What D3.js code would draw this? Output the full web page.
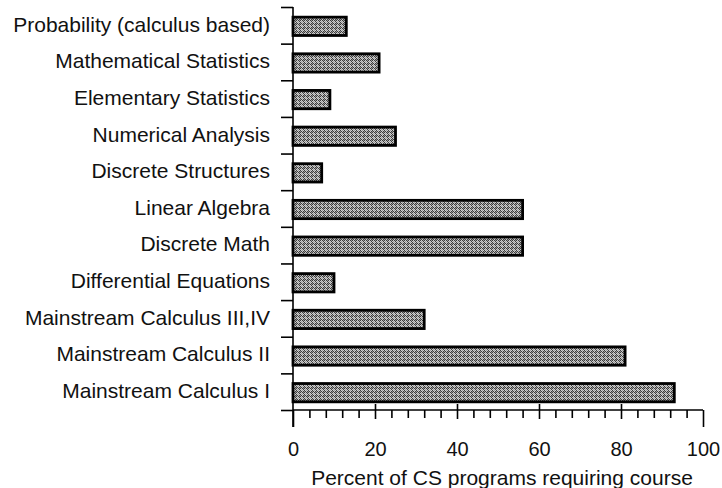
<!DOCTYPE html>
<html>
<head>
<meta charset="utf-8">
<script src="https://cdn.jsdelivr.net/npm/d3@7"></script>
<style>
  body { margin: 0; background: #fff; }
  text { font-family: "Liberation Sans", Arial, Helvetica, sans-serif; fill: #111; }
</style>
</head>
<body>
<svg width="722" height="488"></svg>
<script>
// courses, top to bottom
var courses = [
  "Probability (calculus based)",
  "Mathematical Statistics",
  "Elementary Statistics",
  "Numerical Analysis",
  "Discrete Structures",
  "Linear Algebra",
  "Discrete Math",
  "Differential Equations",
  "Mainstream Calculus III,IV",
  "Mainstream Calculus II",
  "Mainstream Calculus I"
];
var percents = [13, 21, 9, 25, 7, 56, 56, 10, 32, 81, 93];
var majorTicks = [0, 20, 40, 60, 80, 100];
var minorTicks = d3.range(0, 101, 4).filter(function(d) { return d % 20 !== 0; });
var xTitle = "Percent of CS programs requiring course";

var svg = d3.select("svg");

// grainy gray fill like the scanned bars (D dark, L light, M mid)
var grain = ["DLDM", "LMLD", "DLML", "MDLD"];
var shade = { D: "#3c3c3c", L: "#cfcfcf", M: "#9a9a9a" };
var pat = svg.append("defs").append("pattern")
    .attr("id", "grain")
    .attr("width", 4).attr("height", 4)
    .attr("patternUnits", "userSpaceOnUse");
grain.forEach(function(row, r) {
  row.split("").forEach(function(c, k) {
    pat.append("rect")
        .attr("x", k).attr("y", r)
        .attr("width", 1).attr("height", 1)
        .attr("fill", shade[c]);
  });
});

var x = d3.scaleLinear().domain([0, 100]).range([293, 703]);
var y = d3.scaleBand().domain(courses).range([7, 410])
    .paddingInner(0.5).paddingOuter(0.25);
var yEdge = d3.scaleLinear().domain([0, courses.length]).range([7, 410]);

// bars
svg.append("g")
    .selectAll("rect")
    .data(percents)
    .enter()
    .append("rect")
    .attr("x", x(0))
    .attr("y", function(d, i) { return y(courses[i]) + 1; })
    .attr("width", function(d) { return x(d) - x(0); })
    .attr("height", y.bandwidth())
    .attr("fill", "url(#grain)")
    .attr("stroke", "#000")
    .attr("stroke-width", 2.8);

// y axis: ticks at category boundaries
var yAx = svg.append("g")
    .attr("transform", "translate(" + x(0) + ",0)")
    .call(d3.axisLeft(yEdge).tickValues(d3.range(0, courses.length + 1)).tickSize(12).tickFormat(""));
yAx.select(".domain").attr("d", "M0," + yEdge(0) + "V" + 427);
yAx.selectAll("line, path").attr("stroke", "#000").attr("stroke-width", 1.6);

// category labels
var yLab = svg.append("g")
    .attr("transform", "translate(" + x(0) + ",0)")
    .call(d3.axisLeft(y).tickSize(0).tickPadding(23));
yLab.select(".domain").remove();
yLab.selectAll("text")
    .attr("dy", "0.3em")
    .style("font-size", "21px");

// x axis minor ticks
var xMin = svg.append("g")
    .attr("transform", "translate(0,410)")
    .call(d3.axisBottom(x).tickValues(minorTicks).tickSize(8).tickFormat(""));
xMin.select(".domain").attr("d", "M" + x(0) + ",0H" + x(100));
xMin.selectAll("line, path").attr("stroke", "#000").attr("stroke-width", 1.6);

// x axis major ticks and labels
var xMaj = svg.append("g")
    .attr("transform", "translate(0,410)")
    .call(d3.axisBottom(x).tickValues(majorTicks).tickSize(9).tickPadding(0));
xMaj.select(".domain").remove();
xMaj.selectAll(".tick line")
    .attr("stroke", "#000")
    .attr("stroke-width", 1.6)
    .attr("y1", function(d) { return (d === 0 || d === 100) ? 0 : -6; })
    .attr("y2", function(d) { return (d === 0 || d === 100) ? 17 : 9; });
xMaj.selectAll(".tick text")
    .attr("y", 46)
    .attr("dy", 0)
    .style("font-size", "20px");

// axis title
svg.append("text")
    .attr("x", (x(0) + x(100)) / 2 + 4)
    .attr("y", 485)
    .attr("text-anchor", "middle")
    .style("font-size", "21px")
    .text(xTitle);
</script>
</body>
</html>
